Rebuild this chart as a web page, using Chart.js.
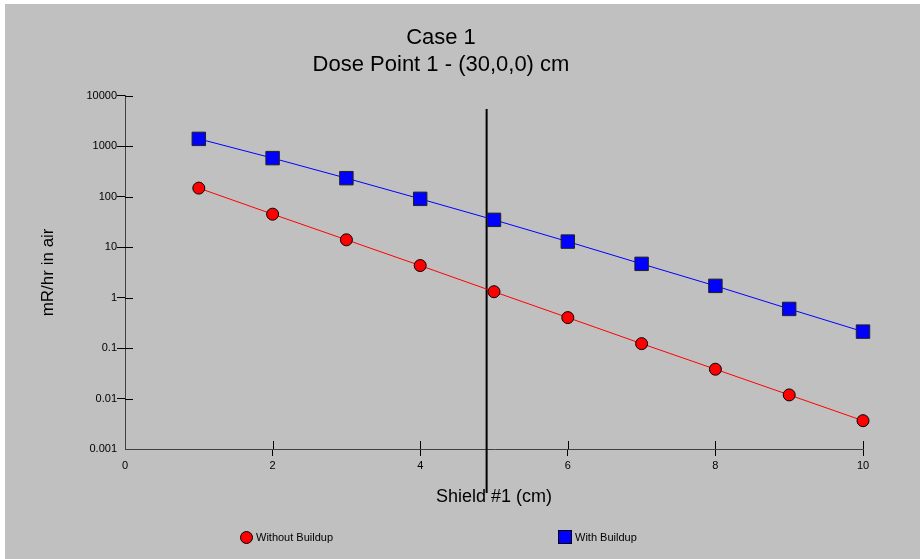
<!DOCTYPE html>
<html>
<head>
<meta charset="utf-8">
<title>Case 1</title>
<script src="https://cdn.jsdelivr.net/npm/chart.js@4.4.1/dist/chart.umd.min.js"></script>
<style>
  body { margin: 0; background: #fff; }
  #frame { position: absolute; left: 5px; top: 4px; width: 915px; height: 555px; background: #c0c0c0; }
  #chart { position: absolute; left: 0; top: 0; }
  #legend { position: absolute; left: 0; top: 523px; width: 915px; height: 20px;
    font: 11px "Liberation Sans", Arial, sans-serif; color: #000; }
  .item { position: absolute; top: 0; height: 20px; display: flex; align-items: center; white-space: nowrap; }
  .swatch { box-sizing: border-box; border: 1px solid #000; margin-right: 3px; }
</style>
</head>
<body>
<div id="frame">
  <canvas id="chart" width="915" height="555"></canvas>
  <div id="legend"></div>
</div>
<script>
const shieldCm = [1, 2, 3, 4, 5, 6, 7, 8, 9, 10];
const withoutBuildup = [148, 45.1, 14.0, 4.32, 1.31, 0.402, 0.1225, 0.0381, 0.0118, 0.00364];
const withBuildup = [1400, 582, 233, 90.7, 34.8, 12.9, 4.67, 1.71, 0.597, 0.212];
const yTicks = [0.001, 0.01, 0.1, 1, 10, 100, 1000, 10000];
const yTickLabels = ["0.001", "0.01", "0.1", "1", "10", "100", "1000", "10000"];
const xTicks = [0, 2, 4, 6, 8, 10];
// vertical marker at the end of shield #1
const shieldMark = 4.9;
const markRange = [5500, 0.000134];

const family = '"Liberation Sans", Arial, sans-serif';

function points(values) {
  return shieldCm.map((x, i) => ({ x: x, y: values[i] }));
}

// short tick marks on the inner side of both axes
const innerTicks = {
  id: "innerTicks",
  beforeDatasetsDraw(chart) {
    const { ctx, chartArea, scales } = chart;
    ctx.save();
    ctx.strokeStyle = "#000";
    ctx.lineWidth = 1;
    ctx.beginPath();
    yTicks.slice(1).forEach((v) => {
      const py = Math.round(scales.y.getPixelForValue(v)) + 0.5;
      ctx.moveTo(chartArea.left, py);
      ctx.lineTo(chartArea.left + 8, py);
    });
    xTicks.slice(1).forEach((v) => {
      const px = Math.round(scales.x.getPixelForValue(v)) + 0.5;
      ctx.moveTo(px, chartArea.bottom);
      ctx.lineTo(px, chartArea.bottom - 8);
    });
    ctx.stroke();
    ctx.restore();
  },
};

const chart = new Chart(document.querySelector("#chart"), {
  type: "line",
  data: {
    datasets: [
      {
        label: "Without Buildup",
        data: points(withoutBuildup),
        borderColor: "#ff0000",
        backgroundColor: "#ff0000",
        borderWidth: 1,
        pointStyle: "circle",
        pointRadius: 6,
        pointBorderColor: "#000",
        pointBorderWidth: 1,
        clip: false,
      },
      {
        label: "With Buildup",
        data: points(withBuildup),
        borderColor: "#0000ff",
        backgroundColor: "#0000ff",
        borderWidth: 1,
        pointStyle: "rect",
        pointRadius: 9.5,
        pointBorderColor: "#202020",
        pointBorderWidth: 1,
        clip: false,
      },
      {
        label: "marker",
        data: [
          { x: shieldMark, y: markRange[0] },
          { x: shieldMark, y: markRange[1] },
        ],
        borderColor: "#000",
        borderWidth: 2,
        pointRadius: 0,
        clip: false,
      },
    ],
  },
  options: {
    responsive: false,
    animation: false,
    layout: { padding: { left: 14, right: 57, top: 0, bottom: 40 } },
    plugins: {
      legend: { display: false },
      tooltip: { enabled: false },
      title: {
        display: true,
        text: ["Case 1", "Dose Point 1 - (30,0,0) cm"],
        color: "#000",
        font: { size: 22, family: family, weight: "normal", lineHeight: 1.2 },
        padding: { top: 21, bottom: 18 },
      },
    },
    scales: {
      x: {
        type: "linear",
        min: 0,
        max: 10,
        afterBuildTicks: (s) => {
          s.ticks = xTicks.map((v) => ({ value: v }));
        },
        afterFit: (s) => {
          s.height = 70;
        },
        ticks: { padding: 3, color: "#000", font: { size: 11, family: family } },
        grid: {
          drawOnChartArea: false,
          tickLength: 7,
          color: (c) => (c.tick && c.tick.value === 0 ? "rgba(0,0,0,0)" : "#000"),
        },
        border: { color: "#404040" },
        title: {
          display: true,
          text: "Shield #1 (cm)",
          color: "#000",
          font: { size: 18, family: family },
          padding: { top: 0, bottom: 11 },
        },
      },
      y: {
        type: "logarithmic",
        min: 0.001,
        max: 10000,
        afterBuildTicks: (s) => {
          s.ticks = yTicks.map((v) => ({ value: v }));
        },
        afterFit: (s) => {
          s.width = 106;
        },
        ticks: {
          padding: 0,
          color: "#000",
          font: { size: 11, family: family },
          callback: (v) => yTickLabels[yTicks.indexOf(v)],
        },
        grid: {
          drawOnChartArea: false,
          tickLength: 8,
          color: (c) => (c.tick && c.tick.value === 0.001 ? "rgba(0,0,0,0)" : "#000"),
        },
        border: { color: "#404040" },
        title: {
          display: true,
          text: "mR/hr in air",
          color: "#000",
          font: { size: 17, family: family },
          padding: { top: 19, bottom: 0 },
        },
      },
    },
  },
  plugins: [innerTicks],
});

// legend row below the axis title
const legend = document.querySelector("#legend");
const legendLeft = [235, 553];
chart.data.datasets.slice(0, 2).forEach((ds, i) => {
  const item = document.createElement("div");
  item.className = "item";
  item.style.left = legendLeft[i] + "px";
  const sw = document.createElement("span");
  sw.className = "swatch";
  const size = ds.pointStyle === "circle" ? 13 : 14;
  sw.style.width = size + "px";
  sw.style.height = size + "px";
  sw.style.background = ds.backgroundColor;
  if (ds.pointStyle === "circle") sw.style.borderRadius = "50%";
  item.appendChild(sw);
  item.appendChild(document.createTextNode(ds.label));
  legend.appendChild(item);
});
</script>
</body>
</html>
